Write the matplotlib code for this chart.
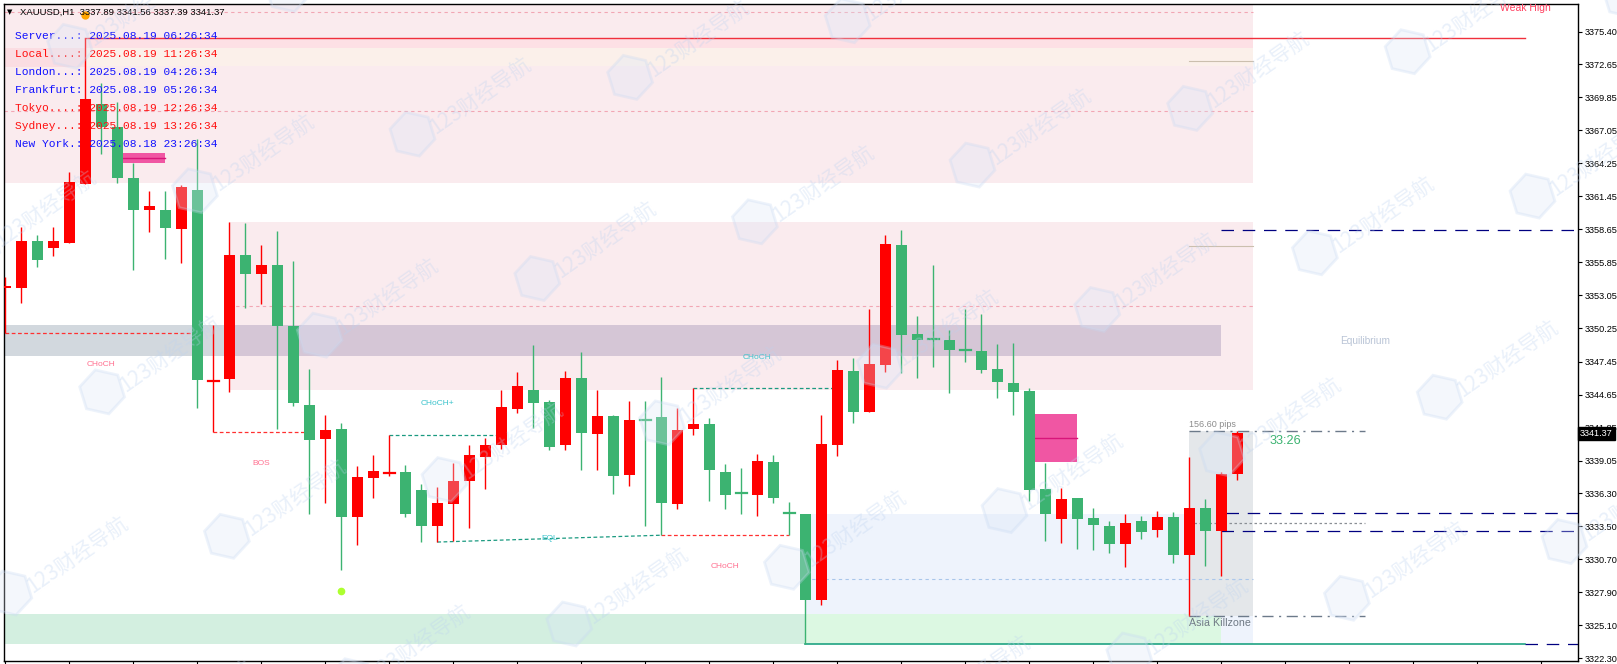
import numpy as np
import matplotlib
matplotlib.use("Agg")
import matplotlib.pyplot as plt
import matplotlib.transforms as mtransforms
from matplotlib.patches import Rectangle, RegularPolygon

plt.rcParams['font.family'] = ['Liberation Sans', 'DejaVu Sans']

# XAUUSD H1 candles, oldest first (red = up, green = down)
opens = [3353.69, 3353.69, 3357.63, 3357.10, 3357.53, 3362.51, 3369.26, 3367.32, 3363.02, 3360.29,
         3360.29, 3358.68, 3361.98, 3345.83, 3345.97, 3356.49, 3354.84, 3355.62, 3350.46, 3343.78,
         3340.91, 3341.74, 3334.24, 3337.61, 3338.04, 3338.08, 3336.57, 3333.48, 3335.38, 3337.32,
         3339.40, 3340.41, 3343.46, 3345.04, 3344.03, 3340.41, 3346.04, 3341.31, 3342.85, 3337.86,
         3342.49, 3342.74, 3335.38, 3341.70, 3342.17, 3338.08, 3336.27, 3336.10, 3338.94, 3334.58,
         3334.52, 3327.20, 3340.34, 3346.65, 3343.14, 3347.19, 3357.31, 3349.77, 3349.33, 3349.27,
         3348.40, 3348.34, 3346.83, 3345.65, 3344.97, 3336.64, 3334.13, 3335.89, 3334.20, 3333.52,
         3332.01, 3333.95, 3333.20, 3334.27, 3331.08, 3335.03, 3333.11, 3337.89]
highs = [3354.58, 3358.82, 3358.17, 3358.82, 3363.52, 3374.89, 3371.02, 3369.44, 3364.31, 3361.94,
         3361.90, 3362.41, 3366.35, 3350.56, 3359.29, 3359.18, 3357.31, 3358.53, 3355.98, 3346.83,
         3342.92, 3342.24, 3338.61, 3339.55, 3341.23, 3338.69, 3337.07, 3336.82, 3338.87, 3340.37,
         3340.98, 3345.04, 3346.58, 3348.84, 3344.18, 3346.65, 3348.27, 3345.04, 3342.92, 3344.14,
         3344.14, 3346.15, 3343.53, 3345.22, 3342.67, 3338.76, 3338.43, 3339.58, 3339.51, 3335.53,
         3334.52, 3342.92, 3347.59, 3347.77, 3351.89, 3358.17, 3358.60, 3351.32, 3355.62, 3350.13,
         3351.89, 3351.50, 3348.95, 3349.02, 3345.22, 3338.87, 3336.75, 3335.89, 3335.03, 3333.91,
         3334.52, 3334.34, 3334.81, 3334.70, 3339.38, 3335.80, 3338.11, 3341.56]
lows = [3349.85, 3352.43, 3355.48, 3356.41, 3357.53, 3362.51, 3365.06, 3362.59, 3355.23, 3358.42,
        3356.13, 3355.80, 3343.53, 3341.49, 3344.89, 3352.00, 3352.32, 3341.77, 3343.71, 3334.49,
        3335.49, 3329.75, 3331.87, 3335.92, 3337.79, 3334.31, 3332.15, 3332.15, 3332.23, 3333.34,
        3336.64, 3340.05, 3343.10, 3341.81, 3339.94, 3339.98, 3338.22, 3338.25, 3336.25, 3336.93,
        3333.55, 3332.73, 3334.99, 3341.20, 3335.60, 3334.99, 3334.56, 3334.38, 3335.49, 3332.73,
        3323.54, 3326.84, 3339.44, 3342.27, 3343.14, 3346.58, 3346.51, 3346.08, 3347.01, 3344.82,
        3347.37, 3346.44, 3344.39, 3342.92, 3335.67, 3332.23, 3332.08, 3331.58, 3331.51, 3331.26,
        3330.07, 3332.44, 3332.58, 3330.40, 3325.90, 3330.15, 3329.30, 3337.39]
closes = [3353.87, 3357.63, 3356.09, 3357.63, 3362.66, 3369.69, 3367.32, 3363.02, 3360.29, 3360.65,
          3358.78, 3362.23, 3345.90, 3345.97, 3356.49, 3354.84, 3355.62, 3350.42, 3343.96, 3340.77,
          3341.66, 3334.24, 3337.68, 3338.18, 3338.18, 3334.49, 3333.48, 3335.46, 3337.32, 3339.55,
          3340.37, 3343.60, 3345.36, 3343.96, 3340.23, 3346.04, 3341.38, 3342.85, 3337.79, 3342.49,
          3342.45, 3335.49, 3341.66, 3342.17, 3338.29, 3336.17, 3336.23, 3339.01, 3335.85, 3334.54,
          3327.20, 3340.48, 3346.72, 3343.21, 3347.23, 3357.42, 3349.74, 3349.24, 3349.29, 3348.45,
          3348.36, 3346.76, 3345.68, 3344.86, 3336.53, 3334.49, 3335.81, 3334.13, 3333.59, 3332.01,
          3333.73, 3333.02, 3334.27, 3331.08, 3335.03, 3333.11, 3337.92, 3341.37]

price_ticks = [3322.30, 3325.10, 3327.90, 3330.70, 3333.50, 3336.30, 3339.05, 3341.85, 3344.65,
               3347.45, 3350.25, 3353.05, 3355.85, 3358.65, 3361.45, 3364.25, 3367.05, 3369.85,
               3372.65, 3375.40]

clock_labels = ["Server...: 2025.08.19 06:26:34", "Local....: 2025.08.19 11:26:34",
                "London...: 2025.08.19 04:26:34", "Frankfurt: 2025.08.19 05:26:34",
                "Tokyo....: 2025.08.19 12:26:34", "Sydney...: 2025.08.19 13:26:34",
                "New York.: 2025.08.18 23:26:34"]
clock_colors = ['#1414ff', '#ff1010', '#1414ff', '#1414ff', '#ff1010', '#ff1010', '#1414ff']

# structure levels: (x0, x1, price0, price1, colour, label, label_x, label_price)
structure = [
    (0, 12, 3349.85, 3349.85, '#ff3030', 'CHoCH', 6, 3347.19),
    (13, 19, 3341.49, 3341.49, '#ff3030', 'BOS', 16, 3338.8),
    (24, 31, 3341.23, 3341.23, '#1a9a80', 'CHoCH+', 27, 3343.88),
    (27, 41, 3332.15, 3332.73, '#1a9a80', 'EQL', 34, 3332.48),
    (41, 49, 3332.73, 3332.73, '#ff3030', 'CHoCH', 45, 3330.1),
    (43, 52, 3345.22, 3345.22, '#1a9a80', 'CHoCH', 47, 3347.77),
]

W, H = 1617, 664
fig = plt.figure(figsize=(W / 100, H / 100), dpi=100)
ax = fig.add_axes([4 / W, 3 / H, 1574 / W, 657 / H])
ax.set_xlim(-0.08, 98.29)
ax.set_ylim(3322.07, 3377.75)

x = np.arange(len(opens))
o = np.array(opens); c = np.array(closes); hi = np.array(highs); lo = np.array(lows)
up = c > o
RED, GREEN = '#ff0000', '#3cb371'

# zones
def zone(x0, x1, p0, p1, color, z=0.5, alpha=1.0):
    ax.add_patch(Rectangle((x0, p0), x1 - x0, p1 - p0, facecolor=color, edgecolor='none',
                           zorder=z, alpha=alpha))

left = -0.08
zone(left, 78, 3362.59, 3378, '#faebee')
zone(5, 78, 3374.0, 3374.89, '#fde0e5', z=0.6)
zone(5, 78, 3372.5, 3374.0, '#fbf0ea', z=0.6)
zone(left, 5, 3372.4, 3374.0, '#fbdde2', z=0.6)
zone(14, 78, 3345.0, 3359.29, '#faebee')
zone(left, 14, 3347.94, 3350.56, '#d2d8de', z=0.7)
zone(14, 76, 3347.94, 3350.56, '#d5c6d6', z=0.7)
zone(50, 78, 3323.54, 3334.53, '#eef3fc')
zone(left, 50, 3323.54, 3326.05, '#d3efe0', z=0.7)
zone(50, 76, 3323.54, 3326.05, '#dcf8e2', z=0.7)
zone(74, 78, 3325.90, 3341.56, '#e4e7ea', z=0.8)

for p, x0 in [(3377.08, left), (3368.72, left), (3352.14, 14)]:
    ax.plot([x0, 78], [p, p], color='#f2a6b4', lw=0.8, ls=(0, (3, 3)), zorder=1)
ax.plot([50, 78], [3329.03, 3329.03], color='#a9c6ea', lw=0.8, ls=(0, (3, 3)), zorder=1)
for p in [3372.88, 3357.24]:
    ax.plot([74, 78], [p, p], color='#cbbfae', lw=0.8, zorder=1)

# order blocks
for x0, x1, p0, p1, pm in [(7.35, 10, 3364.31, 3365.13, 3364.70), (64.35, 67, 3338.9, 3342.99, 3340.94)]:
    zone(x0, x1, p0, p1, '#f056a3', z=2)
    ax.plot([x0, x1], [pm, pm], color='#d8157a', lw=1, zorder=2.1)

# structure lines and labels
for x0, x1, p0, p1, col, lab, lx, lp in structure:
    ax.plot([x0, x1], [p0, p1], color=col, lw=0.9, ls=(0, (3, 2)), zorder=1.5)
    tcol = '#ff7090' if col == '#ff3030' else '#3cc3cc'
    ax.text(lx, lp, lab, color=tcol, fontsize=6, ha='center', va='center', zorder=3)

# weak high / strong low and key levels
ax.plot([5, 95], [3374.89, 3374.89], color='#f0303c', lw=1, zorder=1.5)
ax.plot([50, 95], [3323.54, 3323.54], color='#1fa383', lw=1.2, zorder=1.5)
navy = '#000080'
for x0, p in [(76, 3358.60), (76.3, 3334.59), (76, 3333.06), (95, 3323.54)]:
    ax.plot([x0, 98.29], [p, p], color=navy, lw=0.9, ls=(0, (10, 7)), zorder=1.5)
for p in [3341.56, 3325.90]:
    ax.plot([74, 85], [p, p], color='#6c7a8a', lw=1, ls=(0, (8, 4, 1.5, 4)), zorder=1.5)
ax.plot([74, 85], [3333.73, 3333.73], color='#8a8f95', lw=0.9, ls=(0, (2, 2)), zorder=1.5)

# candles
bw = 0.67
for i in range(len(x)):
    col = RED if up[i] else GREEN
    ax.plot([x[i], x[i]], [lo[i], hi[i]], color=col, lw=1, zorder=4, solid_capstyle='butt')
    b0, b1 = min(o[i], c[i]), max(o[i], c[i])
    if b1 - b0 < 0.15:
        ax.plot([x[i] - bw / 2, x[i] + bw / 2], [o[i], o[i]], color=col, lw=1.6, zorder=4.1)
    else:
        ax.add_patch(Rectangle((x[i] - bw / 2, b0), bw, b1 - b0, facecolor=col,
                               edgecolor='none', zorder=4.1))

ax.plot([5], [3376.82], 'o', color='#ffa500', ms=5, zorder=5)
ax.plot([21], [3328.03], 'o', color='#adff2f', ms=4.5, zorder=5)

# texts
ax.text(74, 3342.15, '156.60 pips', color='#8c8c8c', fontsize=6.5, ha='left', va='center', zorder=5)
ax.text(74, 3325.3, 'Asia Killzone', color='#6f7984', fontsize=7.7, ha='left', va='center', zorder=5)
ax.text(80, 3340.71, '33:26', color='#3cb371', fontsize=9.2, ha='center', va='center', zorder=5)
ax.text(85, 3349.2, 'Equilibrium', color='#b9c4d6', fontsize=7.3, ha='center', va='center', zorder=5)
ax.text(95, 3377.45, 'Weak High', color='#ff4060', fontsize=7.5, ha='center', va='center', zorder=5,
        clip_on=True)

# axes styling
ax.set_xticks(np.arange(0, 99, 4))
ax.set_xticklabels([])
ax.tick_params(axis='x', direction='out', length=3, width=0.8)
ax.yaxis.tick_right()
ax.set_yticks(price_ticks)
ax.set_yticklabels([f'{v:.2f}' for v in price_ticks])
ax.tick_params(axis='y', direction='out', length=3, width=0.8, pad=1.5, labelsize=6.6)
for s in ax.spines.values():
    s.set_color('black')
    s.set_linewidth(1)

ax.text(1 + 2 / 1574, 3341.37, '3341.37', transform=mtransforms.blended_transform_factory(ax.transAxes, ax.transData),
        color='white', fontsize=6.6, ha='left', va='center', clip_on=False, zorder=10,
        bbox=dict(boxstyle='square,pad=0.2', fc='black', ec='black'))

ident = mtransforms.IdentityTransform()
fig.text(10, H - 12, '▼', transform=ident, fontsize=5, ha='center', va='center', family='DejaVu Sans')
fig.text(20, H - 12, 'XAUUSD,H1  3337.89 3341.56 3337.39 3341.37', transform=ident, fontsize=6.8,
         ha='left', va='center', color='black')
for k, (lab, col) in enumerate(zip(clock_labels, clock_colors)):
    fig.text(15, H - (36 + 18 * k), lab, transform=ident, fontsize=8.1, ha='left', va='center',
             color=col, family='Liberation Mono')

# watermark
org = (319.7, 335.2); va_ = (217.6, -56.7); vb_ = (-92.8, 201.1)
for i in range(-4, 11):
    for j in range(-3, 6):
        px = org[0] + i * va_[0] + j * vb_[0]
        py = org[1] + i * va_[1] + j * vb_[1]
        if -80 < px < W + 40 and -40 < py < H + 80:
            fig.add_artist(RegularPolygon((px, H - py), numVertices=6, radius=23, orientation=0.3,
                                          transform=ident, facecolor='#dbe7f8', edgecolor='#c6d8f2',
                                          lw=2, alpha=0.3, zorder=20))
            fig.text(px + 20, H - py + 4, '123财经导航', transform=ident, rotation=35,
                     rotation_mode='anchor', ha='left', va='center', fontsize=15,
                     color='#bcd2f0', alpha=0.32, family=['Noto Sans CJK SC', 'DejaVu Sans'],
                     zorder=20)

fig.savefig('out.png', dpi=100)
